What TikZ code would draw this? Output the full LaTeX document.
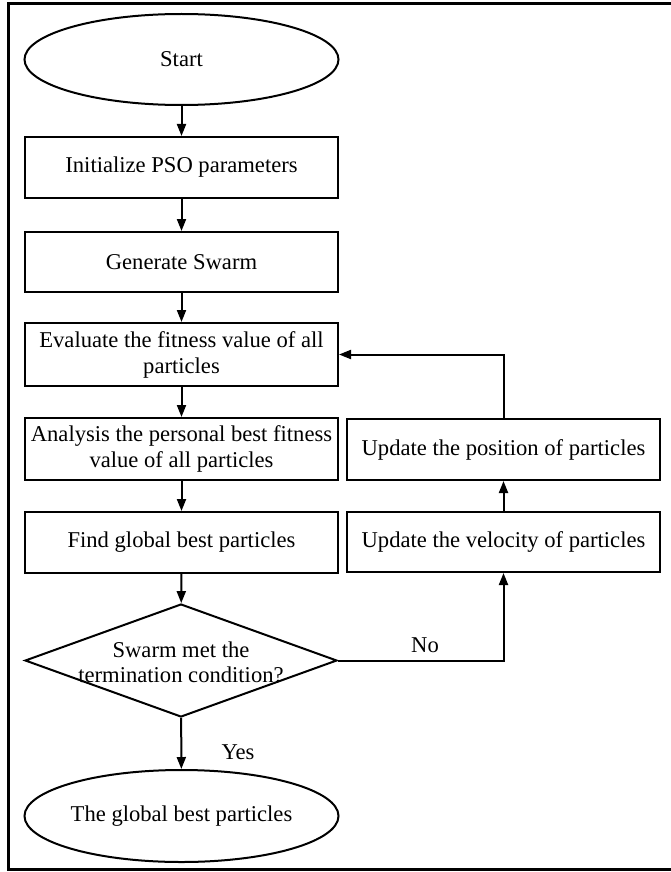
\documentclass[tikz,border=0pt]{standalone}
\usepackage{fontspec}
\setmainfont{Liberation Serif}
\usepackage{tikz}
\usetikzlibrary{shapes.geometric,arrows.meta}

\begin{document}
\begin{tikzpicture}[inner sep=0pt,
box/.style={minimum height=61pt, minimum width=313pt, fill=white, draw, line width=2pt,align=center,font=\fontsize{22.6}{26}\selectfont, shape=rectangle},
term/.style={box, shape=ellipse, minimum height=91pt, minimum width=314pt},
decide/.style={box, shape=diamond, minimum height=113pt, minimum width=312pt},
lbl/.style={align=center,font=\fontsize{22.6}{25}\selectfont},
flow/.style={-{Triangle[length=12pt,width=9pt]},line width=2pt}]
\useasboundingbox (0pt,0pt) rectangle (671pt,-872pt);
\draw [line width=2.2pt] (671pt,-3.5pt) -- (8.5pt,-3.5pt) -- (8.5pt,-869.5pt) -- (671pt,-869.5pt);
\node (n0) [term,at={(181.5pt,-59.5pt)}] {Start};
\node (n1) [box,at={(181.5pt,-167.5pt)}] {Initialize PSO parameters};
\node (n2) [box,minimum height=60pt,at={(181.5pt,-262pt)}] {Generate Swarm};
\node (n3) [box,minimum height=63pt,at={(181.5pt,-354.5pt)}] {Evaluate the fitness value of all\\particles};
\node (n4) [box,minimum height=62pt,at={(181.5pt,-449pt)}] {Analysis the personal best fitness\\value of all particles};
\node (n5) [box,at={(181.5pt,-542.5pt)}] {Find global best particles};
\node (n6) [decide,at={(181pt,-660.5pt)}] {};
\node (n7) [lbl,at={(181pt,-662pt)}] {Swarm met the\\termination condition?};
\node (n8) [term,minimum height=92pt,at={(181.5pt,-816pt)}] {The global best particles};
\node (n9) [box,minimum height=60pt,at={(503.5pt,-542pt)}] {Update the velocity of particles};
\node (n10) [box,at={(503.5pt,-449.5pt)}] {Update the position of particles};
\node (n11) [lbl,at={(425pt,-645pt)}] {No};
\node (n12) [lbl,at={(238pt,-752pt)}] {Yes};


\path [flow,draw](n0)--(n1);


\path [flow,draw](n1)--(n2);


\path [flow,draw](n2)--(n3);


\path [flow,draw](n3)--(n4);


\path [flow,draw](n4)--(n5);


\path [flow,draw](n5)--(n6);


\path [flow,draw](n6)--(n8);


\path [flow,draw](n6.east)-|(n9.south);


\path [flow,draw](n9)--(n10);


\path [flow,draw](n10.north)|-(n3.east);
\end{tikzpicture}
\end{document}
